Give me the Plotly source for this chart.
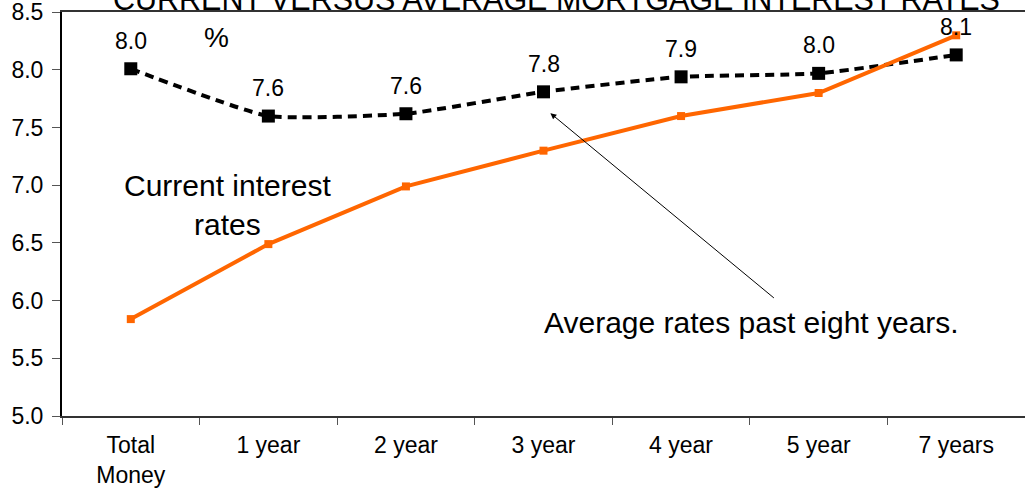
import plotly.graph_objects as go

# Mortgage terms and rates (%)
terms = ["Total<br>Money", "1 year", "2 year", "3 year", "4 year", "5 year", "7 years"]
current_rates = [5.84, 6.49, 6.99, 7.30, 7.60, 7.80, 8.30]
average_rates = [8.01, 7.60, 7.62, 7.81, 7.94, 7.97, 8.13]
y_ticks = [5.0, 5.5, 6.0, 6.5, 7.0, 7.5, 8.0, 8.5]

FONT = "Liberation Sans, Arial, sans-serif"
ORANGE = "#FF6600"

fig = go.Figure()

# Average rates over the past eight years: smoothed dashed black line
fig.add_trace(go.Scatter(
    x=terms, y=average_rates, mode="lines+markers",
    line=dict(color="black", width=4, dash="9px,6px", shape="spline", smoothing=0.45),
    marker=dict(symbol="square", size=13, color="black"),
    showlegend=False, hoverinfo="skip",
))

# Current interest rates: solid orange line
fig.add_trace(go.Scatter(
    x=terms, y=current_rates, mode="lines+markers",
    line=dict(color=ORANGE, width=4),
    marker=dict(symbol="square", size=8, color=ORANGE),
    showlegend=False, hoverinfo="skip",
))

annotations = []

# Value labels above the average-rate markers
for t, v in zip(terms, average_rates):
    annotations.append(dict(
        x=t, y=v, xref="x", yref="y", text=f"{v:.1f}", showarrow=False,
        yshift=28, font=dict(size=23, color="black", family=FONT),
    ))

# Title across the top edge of the plot
annotations.append(dict(
    x=0.513, y=1, xref="paper", yref="paper", yanchor="bottom", xanchor="center",
    text="CURRENT VERSUS AVERAGE MORTGAGE INTEREST RATES", showarrow=False,
    yshift=-6, font=dict(size=30.5, color="black", family=FONT),
))

# Unit marker
annotations.append(dict(
    x=0.62, y=8.28, xref="x", yref="y", text="%", showarrow=False,
    font=dict(size=28, color="black", family=FONT),
))

# Series captions
annotations.append(dict(
    x=0.70, y=6.83, xref="x", yref="y", text="Current interest<br>rates",
    showarrow=False, align="center",
    font=dict(size=30, color="black", family=FONT),
))
annotations.append(dict(
    x=4.51, y=5.81, xref="x", yref="y", text="Average rates past eight years.",
    showarrow=False, font=dict(size=30, color="black", family=FONT),
))

# Arrow from the caption to the average-rate line
annotations.append(dict(
    x=3.05, y=7.625, xref="x", yref="y", text="", showarrow=True,
    ax=225, ay=186, arrowhead=2, arrowsize=1.2, arrowwidth=1, arrowcolor="black",
))

fig.update_layout(
    width=1025, height=495,
    margin=dict(l=62, r=0, t=12, b=79),
    paper_bgcolor="white", plot_bgcolor="white",
    font=dict(family=FONT, color="black"),
    annotations=annotations,
    xaxis=dict(
        type="category", range=[-0.5, 6.5], tickson="boundaries",
        showline=True, linecolor="#333333", linewidth=1.5, mirror=True,
        ticks="outside", ticklen=7, tickcolor="#555555", tickwidth=1,
        showgrid=False, zeroline=False,
        tickfont=dict(size=23, family=FONT, color="black"),
        ticklabelstandoff=8, ticklabeloverflow="allow",
    ),
    yaxis=dict(
        range=[5.0, 8.502], tickmode="array", tickvals=y_ticks,
        ticktext=[f"{v:.1f}" for v in y_ticks],
        showline=True, linecolor="black", linewidth=2,
        ticks="outside", ticklen=8, tickcolor="#555555", tickwidth=1,
        showgrid=False, zeroline=False,
        tickfont=dict(size=23, family=FONT, color="black"),
        ticklabelstandoff=4, ticklabeloverflow="allow",
    ),
)

fig.write_html("out.html")
